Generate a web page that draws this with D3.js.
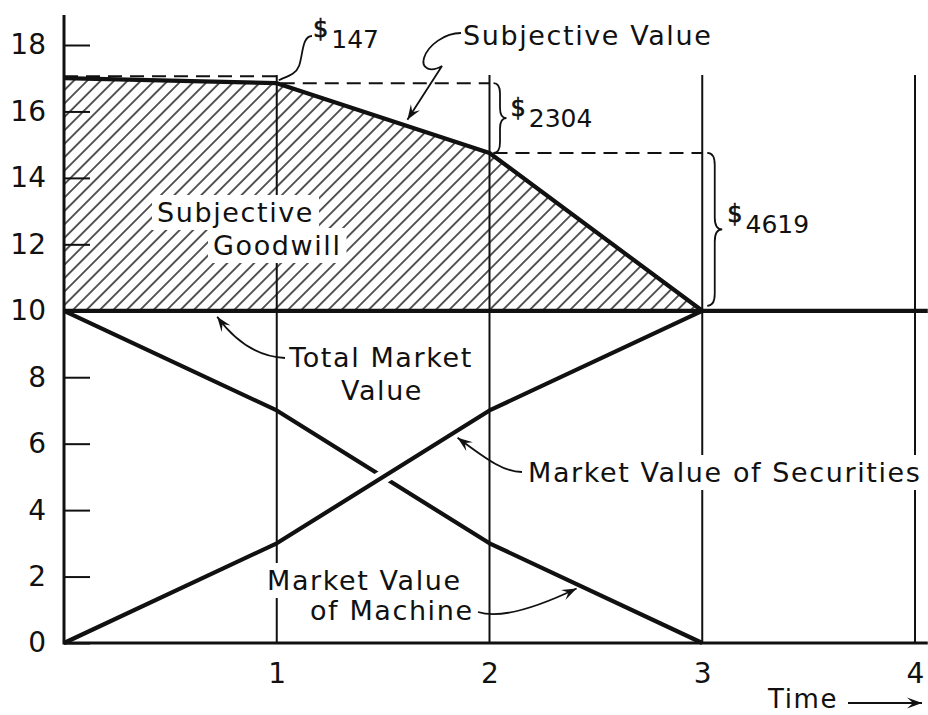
<!DOCTYPE html>
<html>
<head>
<meta charset="utf-8">
<script src="https://cdn.jsdelivr.net/npm/d3@7"></script>
<style>
  body { margin: 0; background: #fff; }
  svg { display: block; font-family: "DejaVu Sans", sans-serif; }
  .lbl { font-size: 27px; letter-spacing: 1.6px; fill: #111; }
  .tick text { font-size: 28px; fill: #111; font-family: "DejaVu Sans", sans-serif; }
</style>
</head>
<body>
<div id="chart"></div>
<script>
// values (thousands of $)
const times = [0, 1, 2, 3];
const subjectiveValue = [17.0, 16.85, 14.75, 10.0];
const machineValue = [10, 7, 3, 0];
const securitiesValue = [0, 3, 7, 10];
const totalTimes = [0, 1, 2, 3, 4];
const totalMarketValue = [10, 10, 10, 10, 10];
const declines = ["147", "2304", "4619"];
const yTickValues = [0, 2, 4, 6, 8, 10, 12, 14, 16, 18];
const xTickValues = [1, 2, 3, 4];

const W = 928, H = 715;
const tEnd = 4.06, vTop = 18.9, gridTop = 17.1;

const x = d3.scaleLinear().domain([0, 4]).range([64, 915]);
const y = d3.scaleLinear().domain([0, 18]).range([643, 45]);

const svg = d3.select("#chart").append("svg")
    .attr("width", W).attr("height", H);

const defs = svg.append("defs");
const pat = defs.append("pattern")
    .attr("id", "hatch")
    .attr("patternUnits", "userSpaceOnUse")
    .attr("width", 9.5).attr("height", 9.5)
    .attr("patternTransform", "rotate(45)");
pat.append("line")
    .attr("x1", 4.75).attr("y1", 0).attr("x2", 4.75).attr("y2", 9.5)
    .attr("stroke", "#111").attr("stroke-width", 1.4);

defs.append("marker")
    .attr("id", "arrow")
    .attr("viewBox", "-15 -6 16 12")
    .attr("refX", 0).attr("refY", 0)
    .attr("markerWidth", 16).attr("markerHeight", 12)
    .attr("markerUnits", "userSpaceOnUse")
    .attr("orient", "auto")
    .append("path")
    .attr("d", "M0,0 L-15,-5.5 L-9,0 L-15,5.5 Z")
    .attr("fill", "#111");

let sv = times.map((t, i) => ({t: t, v: subjectiveValue[i]}));

// hatched subjective goodwill
svg.append("path")
    .datum(sv)
    .attr("d", d3.area().x(d => x(d.t)).y0(y(10)).y1(d => y(d.v)))
    .attr("fill", "url(#hatch)");

// vertical time lines
svg.append("g").selectAll("line")
    .data(xTickValues)
    .join("line")
    .attr("x1", d => x(d)).attr("x2", d => x(d))
    .attr("y1", y(0)).attr("y2", y(gridTop))
    .attr("stroke", "#111").attr("stroke-width", 2);

// dashed lines: previous subjective value carried one period forward
svg.append("g").selectAll("line")
    .data(sv.slice(0, 3))
    .join("line")
    .attr("x1", d => x(d.t) + (d.t === 0 ? 0 : 4)).attr("x2", d => x(d.t + 1))
    .attr("y1", d => y(d.v) - (d.t === 0 ? 2 : 0)).attr("y2", d => y(d.v) - (d.t === 0 ? 2 : 0))
    .attr("stroke", "#111").attr("stroke-width", 2)
    .attr("stroke-dasharray", "14,8");

// braces
function brace(x0, x1, y0, y1) {
    let w = x1 - x0, xm = x0 + w / 2, ym = (y0 + y1) / 2;
    let r = Math.min(w * 0.8, (y1 - y0) / 4);
    return `M${x0},${y0} Q${xm},${y0} ${xm},${y0 + r} L${xm},${ym - r} Q${xm},${ym} ${x1},${ym}` +
        ` Q${xm},${ym} ${xm},${ym + r} L${xm},${y1 - r} Q${xm},${y1} ${x0},${y1}`;
}
let braces = [
    {x0: x(2) + 4, x1: x(2) + 17, y0: y(sv[1].v), y1: y(sv[2].v)},
    {x0: x(3) + 5, x1: x(3) + 20, y0: y(sv[2].v), y1: y(sv[3].v) - 5}
];
svg.append("g").selectAll("path")
    .data(braces)
    .join("path")
    .attr("d", d => brace(d.x0, d.x1, d.y0, d.y1))
    .attr("fill", "none").attr("stroke", "#111").attr("stroke-width", 1.8);

// labels with white boxes
const labelG = svg.append("g");
function label(str, px, py, anchor) {
    let t = labelG.append("text")
        .attr("class", "lbl")
        .attr("x", px).attr("y", py)
        .attr("text-anchor", anchor || "start")
        .text(str);
    let b = t.node().getBBox();
    labelG.insert("rect", "text")
        .attr("x", b.x - 5).attr("y", b.y - 2)
        .attr("width", b.width + 10).attr("height", b.height + 4)
        .attr("fill", "#fff");
    return t;
}
label("Subjective", 157, 222);
label("Goodwill", 213, 255);
label("Market Value of Securities", 528, 482);
label("Market Value", 267, 590);
label("of Machine", 310, 620);

// main value lines
const line = d3.line().x(d => x(d.t)).y(d => y(d.v));
let machine = times.map((t, i) => ({t: t, v: machineValue[i]}));
let securities = times.map((t, i) => ({t: t, v: securitiesValue[i]}));
let total = totalTimes.map((t, i) => ({t: t, v: totalMarketValue[i]}));
total.push({t: tEnd, v: totalMarketValue[totalMarketValue.length - 1]});

const lines = svg.append("g")
    .attr("fill", "none").attr("stroke", "#111")
    .attr("stroke-width", 4.2).attr("stroke-linejoin", "round");
lines.append("path").datum(sv).attr("d", line);
lines.append("path").datum(machine).attr("d", line);

// securities line crosses over the machine line
let secAt = d3.scaleLinear().domain(times).range(securitiesValue);
let crossing = [1.36, 1.62].map(t => ({t: t, v: secAt(t)}));
lines.append("path").datum(crossing).attr("d", line)
    .attr("stroke", "#fff").attr("stroke-width", 14);
lines.append("path").datum(securities).attr("d", line);
lines.append("path").datum(total).attr("d", line);

// axes
svg.append("g")
    .attr("transform", `translate(${x(0)},0)`)
    .call(d3.axisLeft(y).tickValues(yTickValues).tickSizeInner(-26).tickSizeOuter(0).tickPadding(18))
    .call(g => g.select(".domain").remove())
    .call(g => g.selectAll(".tick line").attr("stroke", "#111").attr("stroke-width", 2));

svg.append("g")
    .attr("transform", `translate(0,${y(0)})`)
    .call(d3.axisBottom(x).tickValues(xTickValues).tickSize(0).tickPadding(20).tickFormat(d3.format("d")))
    .call(g => g.select(".domain").remove());

svg.append("line")
    .attr("x1", x(0)).attr("x2", x(0))
    .attr("y1", y(0) + 1.5).attr("y2", y(vTop))
    .attr("stroke", "#111").attr("stroke-width", 3);
svg.append("line")
    .attr("x1", x(0)).attr("x2", x(tEnd))
    .attr("y1", y(0)).attr("y2", y(0))
    .attr("stroke", "#111").attr("stroke-width", 3);

// other text labels
const textG = svg.append("g").attr("class", "lbl");
textG.append("text").attr("x", 463).attr("y", 45).text("Subjective Value");
textG.append("text").attr("x", 381).attr("y", 367).attr("text-anchor", "middle").text("Total Market");
textG.append("text").attr("x", 382).attr("y", 400).attr("text-anchor", "middle").text("Value");
textG.append("text").attr("x", 768).attr("y", 708).attr("font-size", 26).text("Time");

// dollar labels for each period's decline
let dollarPos = [
    {px: 313, py: 48},
    {px: braces[0].x1 + 4, py: 127},
    {px: braces[1].x1 + 5, py: 233}
];
svg.append("g").selectAll("text")
    .data(declines)
    .join("text")
    .attr("x", (d, i) => dollarPos[i].px)
    .attr("y", (d, i) => dollarPos[i].py - 11)
    .attr("fill", "#111")
    .each(function(d) {
        let t = d3.select(this);
        t.append("tspan").attr("font-size", 24).attr("stroke", "#111").attr("stroke-width", 0.6).text("$");
        t.append("tspan").attr("font-size", 25).attr("dx", 3).attr("dy", 11).text(d);
    });

// leaders and arrows
let xs1 = x(1), ysv1 = y(sv[1].v);
let leaders = [
    {d: `M461,33 C445,33 428,45 424,58 C421,68 430,73 442,66 L${x(1.6) + 3},${y(15.6) - 5}`, arrow: true},
    {d: `M312,36 C302,36 303,55 299,66 C296,74 288,76 ${xs1 + 2},${ysv1 - 3}`, arrow: false},
    {d: `M285,358 C262,357 238,345 ${x(0.72)},${y(10) + 6}`, arrow: true},
    {d: `M522,472 C505,472 490,462 ${x(1.85)},${y(6.3) + 4}`, arrow: true},
    {d: `M478,612 C502,620 540,606 ${x(2.4) + 2},${y(1.7) + 2}`, arrow: true},
    {d: "M848,703 L922,703", arrow: true}
];
svg.append("g").selectAll("path")
    .data(leaders)
    .join("path")
    .attr("d", d => d.d)
    .attr("fill", "none").attr("stroke", "#111").attr("stroke-width", 1.8)
    .attr("marker-end", d => d.arrow ? "url(#arrow)" : null);
</script>
</body>
</html>
